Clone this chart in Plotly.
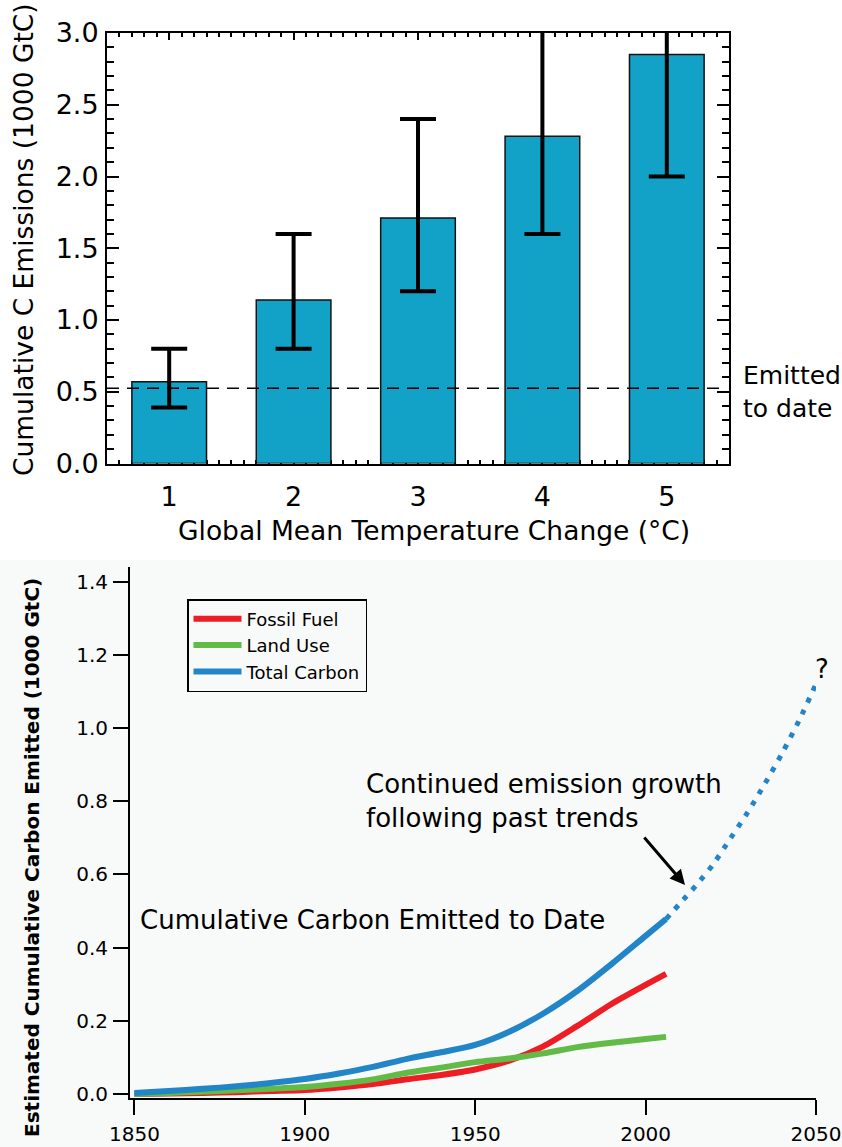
import plotly.graph_objects as go

W, H = 842, 1147
def px(x): return x / W
def py(y): return 1 - y / H

# ---------------- data: top panel ----------------
temp_change = [1, 2, 3, 4, 5]
cum_emissions = [0.57, 1.14, 1.71, 2.28, 2.85]
err_high = [0.80, 1.60, 2.40, 3.30, 3.40]
err_low = [0.39, 0.80, 1.20, 1.60, 2.00]
emitted_to_date = 0.525

# ---------------- data: bottom panel ----------------
years = [1850, 1860, 1870, 1880, 1890, 1900, 1910, 1920, 1930, 1940, 1950,
         1960, 1970, 1980, 1990, 2000, 2006]
fossil_fuel = [0.000, 0.001, 0.003, 0.005, 0.008, 0.011, 0.018, 0.027, 0.040,
               0.052, 0.067, 0.091, 0.130, 0.186, 0.246, 0.298, 0.328]
land_use = [0.000, 0.003, 0.006, 0.010, 0.014, 0.019, 0.028, 0.040, 0.058,
            0.072, 0.087, 0.097, 0.111, 0.128, 0.140, 0.150, 0.156]
total_carbon = [0.003, 0.008, 0.014, 0.021, 0.030, 0.041, 0.056, 0.074, 0.096,
                0.114, 0.134, 0.170, 0.220, 0.282, 0.355, 0.432, 0.478]
proj_years = [2006, 2010, 2015, 2020, 2025, 2030, 2035, 2040, 2045, 2050]
proj_total = [0.478, 0.520, 0.572, 0.630, 0.700, 0.770, 0.848, 0.930, 1.020, 1.120]

BAR = "#12A2C7"
RED = "#EE1D25"
GREEN = "#62BA47"
BLUE = "#2185C8"
GREYBG = "#F8F9F9"
TOPFONT = "DejaVu Sans"
BOTFONT = "DejaVu Sans"

fig = go.Figure()

# top bars
fig.add_trace(go.Bar(
    x=temp_change, y=cum_emissions, width=0.6,
    marker=dict(color=BAR, line=dict(color="#111111", width=1.5)),
    error_y=dict(type="data", symmetric=False,
                 array=[h - v for h, v in zip(err_high, cum_emissions)],
                 arrayminus=[v - l for l, v in zip(err_low, cum_emissions)],
                 color="black", thickness=4, width=18),
    xaxis="x", yaxis="y", showlegend=False))

# bottom lines
smooth = dict(shape="spline", smoothing=0.8)
fig.add_trace(go.Scatter(x=years, y=fossil_fuel, mode="lines", name="Fossil Fuel",
                         line=dict(color=RED, width=6, **smooth), xaxis="x2", yaxis="y2"))
fig.add_trace(go.Scatter(x=years, y=land_use, mode="lines", name="Land Use",
                         line=dict(color=GREEN, width=6, **smooth), xaxis="x2", yaxis="y2"))
fig.add_trace(go.Scatter(x=years, y=total_carbon, mode="lines", name="Total Carbon",
                         line=dict(color=BLUE, width=6, **smooth), xaxis="x2", yaxis="y2"))
fig.add_trace(go.Scatter(x=proj_years, y=proj_total, mode="lines", showlegend=False,
                         line=dict(color=BLUE, width=5, dash="5px,8px", **smooth),
                         xaxis="x2", yaxis="y2"))

shapes = [
    dict(type="rect", xref="paper", yref="paper", x0=0, x1=1, y0=0, y1=py(560),
         fillcolor=GREYBG, line=dict(width=0), layer="below"),
    dict(type="line", xref="x domain", yref="y", x0=0, x1=0.99,
         y0=emitted_to_date, y1=emitted_to_date,
         line=dict(color="black", width=1.5, dash="12px,8px"), layer="above"),
]

def ann(text, x, y, size, family, xanchor="center", **kw):
    d = dict(text=text, x=px(x), y=py(y), xref="paper", yref="paper",
             showarrow=False, xanchor=xanchor, yanchor="middle",
             font=dict(family=family, size=size, color="black"))
    d.update(kw)
    return d

annotations = [
    ann("Global Mean Temperature Change (°C)", 434, 530, 26.5, TOPFONT),
    ann("Cumulative C Emissions (1000 GtC)", 23, 240, 26.5, TOPFONT, textangle=-90),
    ann("Emitted<br>to date", 741, 392, 25, TOPFONT, xanchor="left", align="left"),
    dict(text="Estimated Cumulative Carbon Emitted (1000 GtC)", x=px(32), y=py(858),
         xref="paper", yref="paper", showarrow=False, textangle=-90,
         xanchor="center", yanchor="middle",
         font=dict(family=BOTFONT, size=20, color="black", weight="bold")),
    ann("Cumulative Carbon Emitted to Date", 138, 920, 26, BOTFONT, xanchor="left"),
    ann("Continued emission growth<br>following past trends", 364, 801, 26, BOTFONT,
        xanchor="left", align="left"),
    ann("?", 822, 669, 26, BOTFONT),
    dict(text="", x=px(685), y=py(885), xref="paper", yref="paper", showarrow=True,
         ax=-42, ay=-49, arrowhead=2, arrowsize=1, arrowwidth=3, arrowcolor="black"),
]

fig.update_layout(
    template="none",
    width=W, height=H, margin=dict(l=0, r=0, t=0, b=0, autoexpand=False),
    paper_bgcolor="white", plot_bgcolor="rgba(0,0,0,0)",
    shapes=shapes, annotations=annotations,
    xaxis=dict(domain=[px(107), px(729)], range=[0.5, 5.5], anchor="y", automargin=False,
               tickvals=temp_change, ticks="inside", ticklen=7, tickwidth=2,
               tickcolor="black",
               showline=True, linewidth=2, linecolor="black", mirror="allticks",
               showgrid=False, zeroline=False, layer="below traces",
               ticklabelstandoff=8,
               tickfont=dict(family=TOPFONT, size=27, color="black"),
               minor=dict(dtick=0.1, tick0=0.5, ticks="inside", ticklen=4, tickwidth=1.5,
                          tickcolor="black", showgrid=False)),
    yaxis=dict(domain=[py(463.5), py(33)], range=[0, 3.0], anchor="x", automargin=False,
               dtick=0.5, tickformat=".1f", ticks="inside", ticklen=12, tickwidth=2,
               tickcolor="black",
               showline=True, linewidth=2, linecolor="black", mirror="allticks",
               showgrid=False, zeroline=False, ticklabelstandoff=1,
               tickfont=dict(family=TOPFONT, size=27, color="black"),
               minor=dict(dtick=0.1, ticks="inside", ticklen=7, tickwidth=1.5,
                          tickcolor="black", showgrid=False)),
    xaxis2=dict(domain=[px(130), px(816)], range=[1848.7, 2050], anchor="y2",
                automargin=False,
                tickvals=[1850, 1900, 1950, 2000, 2050], ticks="outside", ticklen=15,
                tickwidth=2, tickcolor="black", showline=True, linewidth=2,
                linecolor="black",
                showgrid=False, zeroline=False, ticklabelstandoff=2,
                tickfont=dict(family=BOTFONT, size=20, color="black")),
    yaxis2=dict(domain=[py(1098), py(567)], range=[-0.011, 1.44], anchor="x2",
                automargin=False,
                dtick=0.2, tickformat=".1f", ticks="outside", ticklen=15,
                tickwidth=2, tickcolor="black", showline=True, linewidth=2,
                linecolor="black",
                showgrid=False, zeroline=False, ticklabelstandoff=1,
                tickfont=dict(family=BOTFONT, size=20, color="black")),
    legend=dict(x=px(187), y=py(599), xanchor="left", yanchor="top",
                bgcolor="rgba(0,0,0,0)", bordercolor="black", borderwidth=1.5,
                font=dict(family=BOTFONT, size=18, color="black"),
                itemwidth=48, tracegroupgap=0),
)

fig.write_html("out.html", config={"displayModeBar": False},
               post_script="document.body.style.margin='0';document.body.style.overflow='hidden';")
